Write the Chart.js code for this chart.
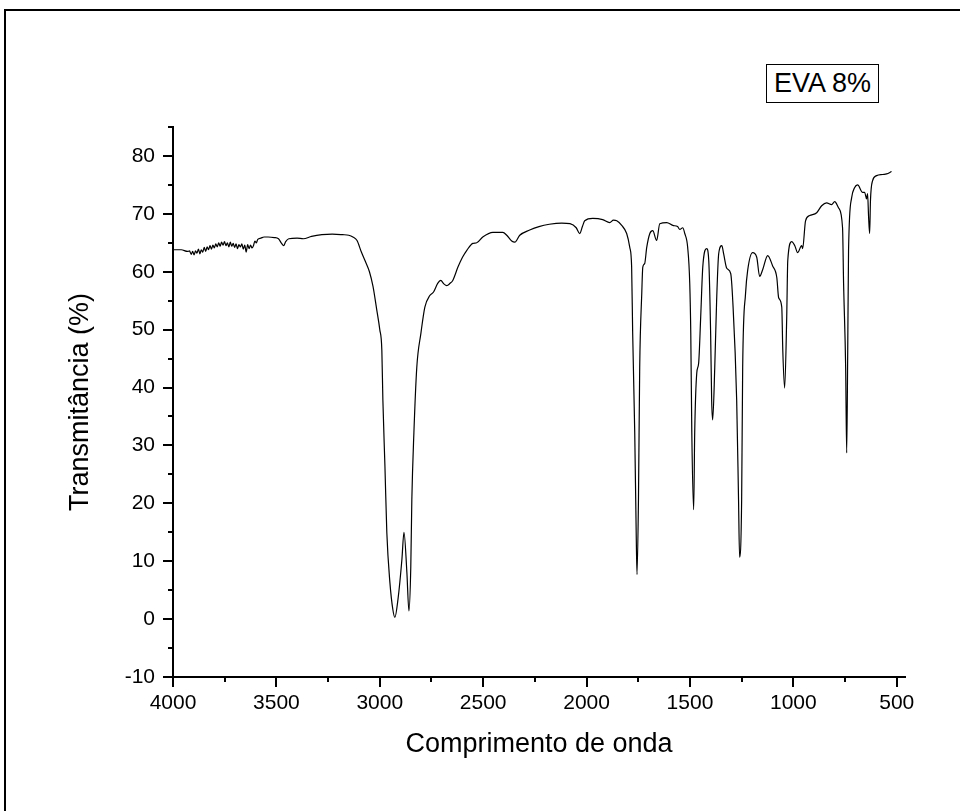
<!DOCTYPE html>
<html lang="pt">
<head>
  <meta charset="UTF-8" />
  <title>EVA 8%</title>
  <script src="https://cdn.jsdelivr.net/npm/chart.js"></script>
  <style>
    body {
      margin: 0;
      background: #fff;
      font-family: 'Liberation Sans', Arial, sans-serif;
    }
    #wrap { position: relative; width: 960px; height: 811px; overflow: hidden; }
    #frame {
      position: absolute; left: 4px; top: 9px; width: 970px; height: 820px;
      border-top: 2px solid #000; border-left: 2px solid #000;
    }
    #tag {
      position: absolute; left: 766px; top: 64px; width: 111px; height: 37px;
      border: 1px solid #000; font-size: 27px; line-height: 37px; text-align: center;
      color: #000; background: #fff;
    }
    canvas { position: absolute; left: 0; top: 0; }
  </style>
</head>
<body>
  <div id="wrap">
    <div id="frame"></div>
    <canvas id="ftirChart" width="960" height="811"></canvas>
    <div id="tag">EVA 8%</div>
  </div>

  <script>
    // Spectrum (wavenumber, transmittance %)
    const waveNumbers = [
      4000, 3960, 3930, 3920, 3912, 3905, 3898, 3891, 3884, 3877, 3870, 3863, 3856, 3849, 3842,
      3835, 3828, 3821, 3814, 3807, 3800, 3793, 3786, 3779, 3772, 3765, 3758, 3751, 3744, 3737,
      3730, 3723, 3716, 3709, 3702, 3695, 3688, 3681, 3674, 3667, 3660, 3653, 3646, 3639, 3632,
      3625, 3618, 3611, 3604, 3597, 3590, 3575, 3560, 3540, 3510, 3490, 3475, 3465, 3455, 3440,
      3400, 3370, 3330, 3280, 3230, 3180, 3150, 3130, 3110, 3090, 3070, 3050, 3033, 3015, 3000,
      2990, 2985, 2975, 2966, 2951, 2937, 2927, 2912, 2893, 2883, 2869, 2859, 2850, 2845, 2835,
      2821, 2801, 2782, 2758, 2740, 2720, 2705, 2690, 2676, 2660, 2647, 2622, 2600, 2579, 2550,
      2531, 2502, 2453, 2405, 2386, 2362, 2347, 2323, 2275, 2230, 2180, 2120, 2080, 2050, 2033,
      2020, 2009, 1970, 1922, 1888, 1870, 1854, 1830, 1806, 1791, 1782, 1777, 1767, 1760, 1756,
      1749, 1743, 1733, 1728, 1719, 1709, 1694, 1680, 1661, 1646, 1612, 1583, 1560, 1549, 1535,
      1525, 1511, 1501, 1496, 1491, 1482, 1477, 1467, 1458, 1448, 1438, 1419, 1409, 1400, 1395,
      1390, 1380, 1371, 1361, 1346, 1337, 1322, 1303, 1293, 1274, 1265, 1260, 1250, 1245, 1231,
      1221, 1197, 1177, 1163, 1148, 1124, 1100, 1080, 1071, 1056, 1051, 1042, 1032, 1027, 1008,
      993, 979, 960, 955, 941, 921, 887, 863, 839, 815, 800, 781, 762, 757, 747,
      742, 737, 733, 718, 704, 689, 665, 655, 646, 641, 636, 631, 627, 617, 597,
      568, 549, 525
    ];
    const transmittance = [
      63.8, 63.8, 63.5, 63.6, 63.0, 63.5, 62.9, 63.6, 63.2, 63.9, 63.1, 63.8, 63.4, 64.2, 63.5,
      64.3, 63.8, 64.5, 63.9, 64.6, 64.1, 64.8, 64.3, 65.0, 64.4, 65.1, 64.6, 65.2, 64.5, 65.0,
      64.3, 65.1, 64.4, 64.9, 64.2, 64.8, 64.0, 64.7, 64.3, 64.8, 63.9, 64.6, 63.4, 64.7, 64.0,
      64.6, 64.1, 64.5, 65.3, 65.0, 65.6, 65.8, 66.0, 66.0, 65.9, 65.7, 64.9, 64.5, 65.2, 65.7,
      65.8, 65.7, 66.1, 66.4, 66.5, 66.4, 66.3, 66.0, 65.4, 63.5, 61.8, 60.0, 57.5, 53.5, 50.0,
      46.4, 37.8, 26.3, 15.0, 6.3, 1.7, 0.3, 3.4, 10.3, 15.0, 8.1, 1.4, 9.1, 20.6, 32.2,
      43.5, 49.4, 53.9, 55.9, 56.5, 58.0, 58.5, 57.9, 57.6, 58.0, 58.5, 60.8, 62.5, 63.7, 64.9,
      65.0, 66.0, 66.8, 66.8, 66.3, 65.3, 65.1, 66.3, 67.2, 67.8, 68.2, 68.4, 68.3, 67.6, 66.6,
      67.8, 68.8, 69.2, 69.0, 68.5, 68.9, 68.8, 68.0, 66.6, 64.2, 60.8, 49.4, 32.2, 15.0, 7.7,
      20.6, 43.5, 56.3, 60.8, 61.4, 64.2, 66.6, 67.1, 65.4, 68.3, 68.5, 68.0, 67.8, 67.3, 67.6,
      66.6, 64.2, 58.0, 49.4, 32.2, 18.9, 32.2, 42.5, 44.2, 52.2, 60.8, 64.0, 61.9, 49.4, 37.8,
      34.4, 43.5, 55.0, 63.1, 64.5, 63.1, 60.6, 59.7, 55.0, 37.8, 20.6, 10.7, 20.6, 43.5, 56.3,
      60.2, 63.3, 62.5, 59.2, 60.4, 62.8, 61.0, 59.0, 55.5, 53.9, 46.4, 39.9, 52.2, 61.9, 65.2,
      64.5, 63.3, 64.5, 64.0, 68.8, 69.7, 70.2, 71.4, 71.9, 71.6, 72.1, 71.0, 67.6, 58.0, 43.5,
      28.7, 46.4, 63.7, 72.8, 74.5, 75.0, 73.7, 73.7, 72.6, 73.5, 69.4, 66.6, 72.3, 75.7, 76.6,
      76.8, 76.9, 77.3
    ];

    // Axis ranges and tick positions
    const xMin = 460, xMax = 4000;
    const yMin = -10, yMax = 85;
    const xTicks = [4000, 3750, 3500, 3250, 3000, 2750, 2500, 2250, 2000, 1750, 1500, 1250, 1000, 750, 500];
    const yTicks = [-10, -5, 0, 5, 10, 15, 20, 25, 30, 35, 40, 45, 50, 55, 60, 65, 70, 75, 80, 85];

    const points = waveNumbers.map((w, i) => ({ x: w, y: transmittance[i] }));

    // Outward tick marks: long on labelled ticks, short in between
    const tickMarks = {
      id: 'tickMarks',
      afterDraw(chart) {
        const ctx = chart.ctx;
        const xs = chart.scales.x, ys = chart.scales.y;
        ctx.save();
        ctx.strokeStyle = '#000';
        ctx.lineWidth = 2;
        xs.ticks.forEach(t => {
          const px = Math.round(xs.getPixelForValue(t.value));
          const len = t.value % 500 === 0 ? 10 : 5;
          ctx.beginPath();
          ctx.moveTo(px, xs.top);
          ctx.lineTo(px, xs.top + len);
          ctx.stroke();
        });
        ys.ticks.forEach(t => {
          const py = Math.round(ys.getPixelForValue(t.value));
          const len = t.value % 10 === 0 ? 10 : 5;
          ctx.beginPath();
          ctx.moveTo(ys.right, py);
          ctx.lineTo(ys.right - len, py);
          ctx.stroke();
        });
        ctx.restore();
      }
    };

    const tickFont = { family: "'Liberation Sans', Arial, sans-serif", size: 21 };
    const titleFont = { family: "'Liberation Sans', Arial, sans-serif", size: 27 };

    new Chart(document.getElementById('ftirChart'), {
      type: 'line',
      data: {
        datasets: [{
          label: 'EVA 8%',
          data: points,
          borderColor: '#000',
          borderWidth: 1.2,
          pointRadius: 0,
          fill: false,
          cubicInterpolationMode: 'monotone'
        }]
      },
      options: {
        responsive: false,
        animation: false,
        devicePixelRatio: 1,
        layout: { padding: { left: 64, right: 55, top: 127, bottom: 50 } },
        plugins: { legend: { display: false }, tooltip: { enabled: false } },
        scales: {
          x: {
            type: 'linear',
            reverse: true,
            min: xMin,
            max: xMax,
            afterFit: s => { s.height = 84; },
            afterBuildTicks: s => { s.ticks = xTicks.map(v => ({ value: v })); },
            grid: { drawOnChartArea: false, drawTicks: true, tickLength: 10, tickColor: 'rgba(0,0,0,0)' },
            border: { display: true, color: '#000', width: 2 },
            ticks: {
              autoSkip: false,
              maxRotation: 0,
              padding: 4,
              color: '#000',
              font: tickFont,
              callback: v => (v % 500 === 0 ? v : '')
            },
            title: { display: true, text: 'Comprimento de onda', color: '#000', font: titleFont, padding: 0 }
          },
          y: {
            min: yMin,
            max: yMax,
            afterFit: s => { s.width = 109; },
            afterBuildTicks: s => { s.ticks = yTicks.map(v => ({ value: v })); },
            grid: { drawOnChartArea: false, drawTicks: true, tickLength: 10, tickColor: 'rgba(0,0,0,0)' },
            border: { display: true, color: '#000', width: 2 },
            ticks: {
              autoSkip: false,
              padding: 8,
              color: '#000',
              font: tickFont,
              callback: v => (v % 10 === 0 ? v : '')
            },
            title: { display: true, text: 'Transmitância (%)', color: '#000', font: titleFont, padding: 0 }
          }
        }
      },
      plugins: [tickMarks]
    });
  </script>
</body>
</html>
